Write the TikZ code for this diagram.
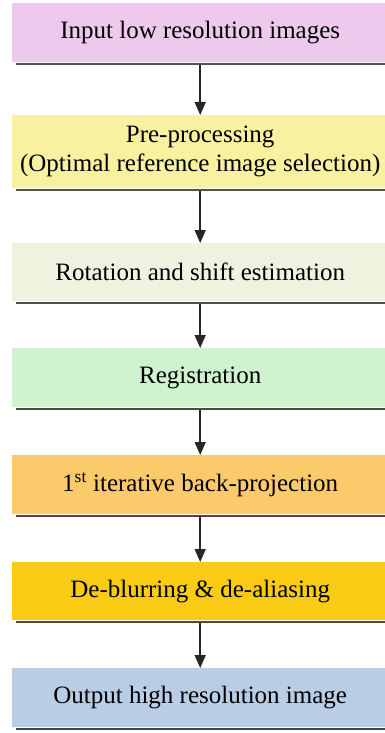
\documentclass[tikz,border=0pt]{standalone}
\usepackage{fontspec}
\setmainfont{Liberation Serif}
\usetikzlibrary{arrows.meta}
\definecolor{cpink}{HTML}{EDC9EE}
\definecolor{cyel}{HTML}{F7F1A0}
\definecolor{cpale}{HTML}{EEF3E0}
\definecolor{cgreen}{HTML}{CFF3CF}
\definecolor{corange}{HTML}{FBCA6A}
\definecolor{cgold}{HTML}{FACB14}
\definecolor{cblue}{HTML}{B9CDE5}
\definecolor{spink}{HTML}{5E4B62}
\definecolor{syel}{HTML}{5A5530}
\definecolor{spale}{HTML}{4A4D48}
\definecolor{sgreen}{HTML}{3F5040}
\definecolor{sorange}{HTML}{5A4530}
\definecolor{sgold}{HTML}{5A4A20}
\definecolor{sblue}{HTML}{3A4555}
\tikzset{
  stepbox/.style={rectangle, anchor=north west, minimum width=376pt, inner sep=0pt,
    align=center, font=\fontsize{25}{29}\selectfont, text=black},
  flowarrow/.style={line width=1.5pt, black!85, -{Triangle[width=11pt,length=13pt]}},
  shadowline/.style={line width=2pt}
}
\begin{document}
\begin{tikzpicture}[x=1pt,y=-1pt]
\useasboundingbox (0,0) rectangle (385,733);
\node[stepbox, fill=cpink, minimum height=59pt] (b1) at (12,3) {Input low resolution images};
\node[stepbox, fill=cyel, minimum height=73pt] (b2) at (12,115) {Pre-processing\\(Optimal reference image selection)};
\node[stepbox, fill=cpale, minimum height=58pt] (b3) at (12,243) {Rotation and shift estimation};
\node[stepbox, fill=cgreen, minimum height=59pt] (b4) at (12,348) {Registration};
\node[stepbox, fill=corange, minimum height=59pt] (b5) at (12,455) {1\textsuperscript{st} iterative back-projection};
\node[stepbox, fill=cgold, minimum height=58pt] (b6) at (12,562) {De-blurring \& de-aliasing};
\node[stepbox, fill=cblue, minimum height=59pt] (b7) at (12,668) {Output high resolution image};
% shadow lines
\foreach \b/\c in {b1/spink,b2/syel,b3/spale,b4/sgreen,b5/sorange,b6/sgold,b7/sblue}{
  \draw[shadowline, \c] ([xshift=4pt,yshift=-2pt]\b.south west) -- ([xshift=4pt,yshift=-2pt]\b.south east);
}
% arrows
\foreach \a/\b in {b1/b2,b2/b3,b3/b4,b4/b5,b5/b6,b6/b7}{
  \draw[flowarrow] ([yshift=-3pt]\a.south) -- (\b.north);
}
\end{tikzpicture}
\end{document}
